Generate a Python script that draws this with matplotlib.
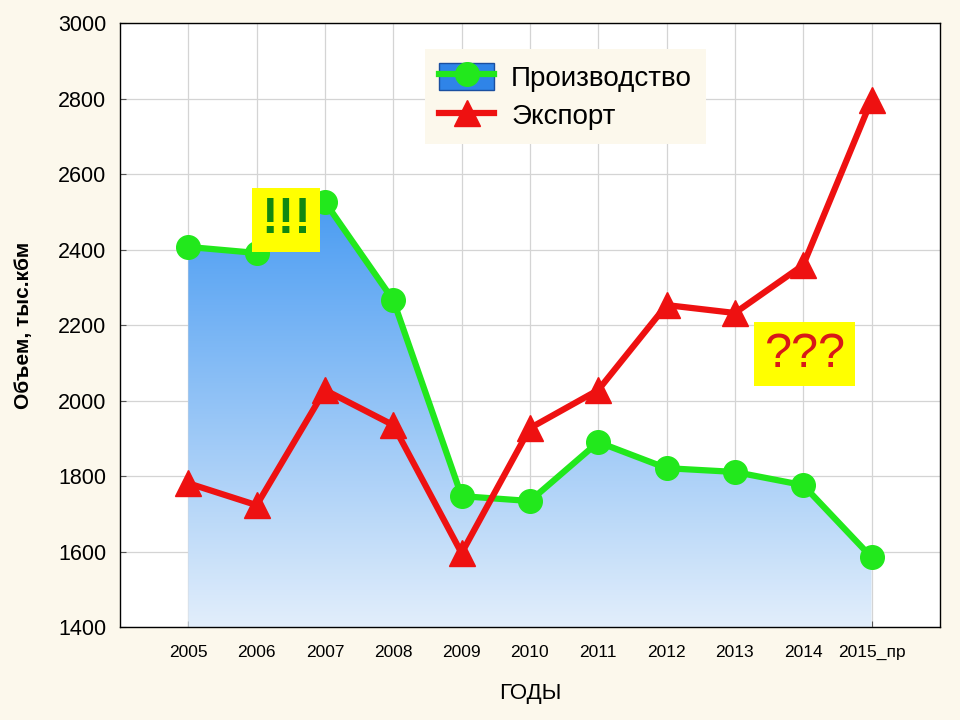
import numpy as np
import matplotlib
matplotlib.use("Agg")
import matplotlib.pyplot as plt
from matplotlib.colors import LinearSegmentedColormap
from matplotlib.patches import Patch
from matplotlib.lines import Line2D
from matplotlib.legend_handler import HandlerTuple

# ---------- данные ----------
years = ["2005", "2006", "2007", "2008", "2009", "2010", "2011",
         "2012", "2013", "2014", "2015_пр"]
production = [2407, 2391, 2526, 2266, 1747, 1734, 1890, 1821, 1811, 1776, 1585]
export = [1781, 1723, 2028, 1935, 1596, 1927, 2028, 2253, 2232, 2359, 2796]

y_ticks = [1400, 1600, 1800, 2000, 2200, 2400, 2600, 2800, 3000]

# ---------- цвета ----------
C_BG = "#fcf8ec"
C_GREEN = "#22e81c"
C_RED = "#ee1111"
C_FILL_TOP = "#4a9cf2"
C_FILL_BOT = "#e2eefb"

plt.rcParams["font.family"] = ["Liberation Sans", "DejaVu Sans"]

fig = plt.figure(figsize=(9.6, 7.2), dpi=100)
fig.patch.set_facecolor(C_BG)
ax = fig.add_axes([0.125, 0.129, 0.854, 0.839])
ax.set_facecolor("white")

x = np.arange(len(years))
ax.set_xlim(-1, 11)
ax.set_ylim(1400, 3000)

# градиентная заливка под линией производства
cmap = LinearSegmentedColormap.from_list("fillgrad", [C_FILL_BOT, C_FILL_TOP])
grad = np.linspace(0, 1, 256).reshape(-1, 1)
poly = ax.fill_between(x, production, 1400, color="none", lw=0)
img = ax.imshow(grad, cmap=cmap, origin="lower", aspect="auto",
                extent=(x[0], x[-1], 1400, max(production)), zorder=1)
img.set_clip_path(poly.get_paths()[0], transform=ax.transData)

ax.plot(x, production, color=C_GREEN, lw=4.5, marker="o", ms=17,
        mec=C_GREEN, mfc=C_GREEN, zorder=4)
ax.plot(x, export, color=C_RED, lw=4.5, marker="^", ms=19,
        mec=C_RED, mfc=C_RED, zorder=4)

# оси и сетка
ax.set_xticks(x)
ax.set_xticklabels(years, fontsize=12.5)
ax.set_yticks(y_ticks)
ax.set_yticklabels([str(v) for v in y_ticks], fontsize=15.5)
ax.grid(True, color="#d4d4d4", lw=0.9)
ax.set_axisbelow(True)
ax.tick_params(axis="both", direction="in", length=4, color="#555555", pad=10)
ax.tick_params(axis="x", pad=13)
for sp in ax.spines.values():
    sp.set_color("black")
    sp.set_linewidth(1.0)

ax.set_ylabel("Объем, тыс.кбм", fontsize=15, fontweight="bold", labelpad=18)
ax.set_xlabel("ГОДЫ", fontsize=16, labelpad=16)

# легенда
h_prod = (Patch(facecolor="#2f84e8", edgecolor="#1a4fa0"),
          Line2D([], [], color=C_GREEN, lw=4.5, marker="o", ms=17))
h_exp = Line2D([], [], color=C_RED, lw=4.5, marker="^", ms=19)
leg = ax.legend([h_prod, h_exp], ["Производство", "Экспорт"],
                handler_map={tuple: HandlerTuple(ndivide=1)},
                loc="upper left", bbox_to_anchor=(0.372, 0.957),
                borderaxespad=0, fontsize=20, frameon=True, fancybox=False,
                handlelength=2.0, handleheight=1.1, labelspacing=0.35,
                borderpad=0.5, handletextpad=0.6)
leg.get_frame().set_facecolor(C_BG)
leg.get_frame().set_edgecolor("none")
leg.get_frame().set_alpha(1)

# подписи
ax.text(1.43, 2478, "!!!", fontsize=36, fontweight="bold", color="#118811",
        ha="center", va="center", zorder=6,
        bbox=dict(boxstyle="square,pad=0.18", fc="#ffff00", ec="none"))
ax.text(9.02, 2123, "???", fontsize=35, color="#d81818", ha="center", va="center",
        zorder=6, bbox=dict(boxstyle="square,pad=0.2", fc="#ffff00", ec="none"))

fig.savefig("out.png", dpi=100, facecolor=C_BG)
